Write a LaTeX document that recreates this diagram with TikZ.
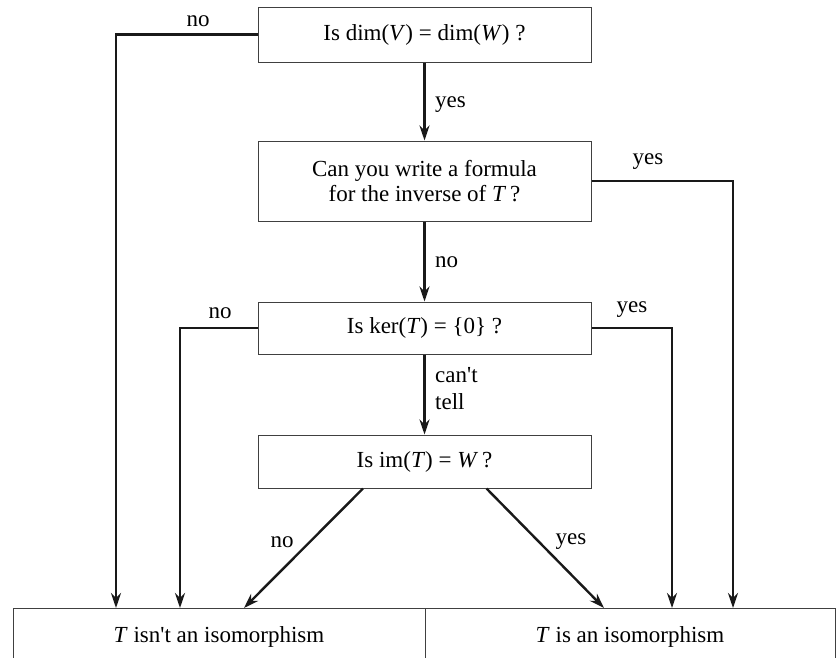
\documentclass[tikz,border=0pt]{standalone}
\usepackage{fontspec}
\setmainfont{Liberation Serif}
\usetikzlibrary{arrows.meta}
\begin{document}
\begin{tikzpicture}[x=1pt,y=-1pt,
  box/.style={draw=black!75, line width=1pt, minimum width=333pt, inner sep=0pt, align=center, font=\fontsize{23}{25}\selectfont},
  endbox/.style={draw=black!75, line width=1pt, inner sep=0pt, font=\fontsize{23}{25}\selectfont},
  conn/.style={line width=2.4pt, black!90},
  arr/.style={conn, -{Stealth[length=15pt,width=10pt,inset=5pt]}},
  lab/.style={font=\fontsize{23}{25}\selectfont, inner sep=0pt}]
\useasboundingbox (0,0) rectangle (836,657);
% question boxes
\node[box, minimum height=55pt] (b1) at (424.5,34.5) {Is dim(\textit{V}) = dim(\textit{W}) ?};
\node[box, minimum height=80pt] (b2) at (424.5,181) {Can you write a formula\\for the inverse of \textit{T}\,?};
\node[box, minimum height=52pt] (b3) at (424.5,328) {Is ker(\textit{T}) = \{0\} ?};
\node[box, minimum height=53pt] (b4) at (424.5,461.5) {Is im(\textit{T}) = \textit{W}\,?};
% result boxes
\node[endbox, minimum width=412pt, minimum height=58pt] (no) at (219,637) {\textit{T} isn\textquotesingle t an isomorphism};
\node[endbox, minimum width=410pt, minimum height=58pt] (yes) at (630,637) {\textit{T} is an isomorphism};
% free ends on the result boxes
\coordinate (n1) at (116,608);
\coordinate (n2) at (180,608);
\coordinate (n3) at (244,608);
\coordinate (y3) at (604,608);
\coordinate (y2) at (672,608);
\coordinate (y1) at (733,608);
% connectors
\draw[arr] (b1.west) -| (n1);
\draw[arr] (b1.south) -- (b2.north);
\draw[arr] (b2.east) -| (y1);
\draw[arr] (b2.south) -- (b3.north);
\draw[arr] (b3.west) -| (n2);
\draw[arr] (b3.east) -| (y2);
\draw[arr] (b3.south) -- (b4.north);
\draw[arr] ([xshift=-61.5pt]b4.south) -- (n3);
\draw[arr] ([xshift=62pt]b4.south) -- (y3);
% labels
\node[lab] (l1) at (198,21) {no};
\node[lab, anchor=west] (l2) at (435,105) {yes};
\node[lab] (l3) at (648,162) {yes};
\node[lab, anchor=west] (l4) at (435,262) {no};
\node[lab] (l5) at (220,313) {no};
\node[lab] (l6) at (632,310) {yes};
\node[lab, anchor=west, align=left, font=\fontsize{23}{27}\selectfont] (l7) at (435,389) {can\textquotesingle t\\tell};
\node[lab] (l8) at (282,542) {no};
\node[lab] (l9) at (571,542) {yes};
\end{tikzpicture}
\end{document}
